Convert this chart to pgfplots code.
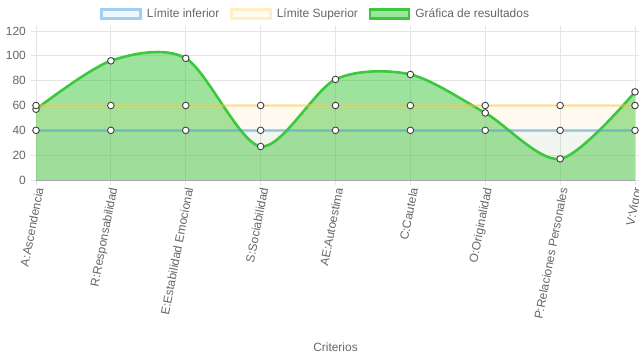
\documentclass[border=0pt]{standalone}
\usepackage{pgfplots}
\pgfplotsset{compat=1.18}
\usepackage{fontspec}
\setmainfont{Liberation Sans}
\definecolor{txt}{RGB}{102,102,102}
\definecolor{gridc}{RGB}{228,228,228}
\definecolor{cblue}{RGB}{54,162,235}
\definecolor{cyel}{RGB}{255,205,86}
\definecolor{cgreen}{RGB}{60,200,60}
\definecolor{lblue}{RGB}{160,207,245}
\definecolor{lyel}{RGB}{255,240,196}
\definecolor{fgreen}{RGB}{157,228,157}
\begin{document}
\begin{tikzpicture}
\begin{axis}[
  at={(0,0)}, anchor=south west,
  scale only axis, width=599bp, height=149bp,
  xmin=0, xmax=8, ymin=0, ymax=120,
  xtick={0,...,8},
  xticklabels={A:Ascendencia,R:Responsabilidad,E:Estabilidad Emocional,S:Sociabilidad,AE:Autoestima,C:Cautela,O:Originalidad,P:Relaciones Personales,V:Vigor},
  ytick={0,20,...,120},
  grid=major, grid style={gridc, line width=0.8bp},
  axis line style={gridc, line width=0.8bp},
  tick align=outside, major tick length=5bp,
  tick style={gridc, line width=0.8bp},
  x tick label style={rotate=79, anchor=east, font=\fontsize{12}{14}\selectfont, text=txt, inner sep=1bp, yshift=-4bp, xshift=-1bp},
  y tick label style={font=\fontsize{12}{14}\selectfont, text=txt, inner sep=2bp, xshift=-3bp},
  /pgf/number format/assume math mode=true,
  xlabel={Criterios},
  xlabel style={font=\fontsize{12}{14}\selectfont, text=txt, at={(axis description cs:0.5,0)}, anchor=center, yshift=-167bp},
  legend style={draw=none, fill=none, at={(axis description cs:0.467,1)}, anchor=center, yshift=17bp,
    legend columns=3, font=\fontsize{12}{14}\selectfont, text=txt,
    /tikz/every even column/.append style={column sep=9bp},
    /tikz/every odd column/.append style={column sep=3bp},
    nodes={inner sep=2bp}},
  legend cell align=left,
  clip=false,
]
% fills
\addplot[forget plot, smooth, draw=none, fill=cgreen, fill opacity=0.5] coordinates {(0,57) (1,96) (2,98) (3,27) (4,81) (5,85) (6,54) (7,17) (8,71)} \closedcycle;
\addplot[forget plot, draw=none, fill=cyel, fill opacity=0.09] coordinates {(0,60) (8,60)} \closedcycle;
\addplot[forget plot, draw=none, fill=cblue, fill opacity=0.06] coordinates {(0,40) (8,40)} \closedcycle;
\draw[gray!70, line width=0.8bp] (axis cs:0,0) -- (axis cs:8,0);
% lines
\addplot[forget plot, smooth, cgreen, line width=2.6bp] coordinates {(0,57) (1,96) (2,98) (3,27) (4,81) (5,85) (6,54) (7,17) (8,71)};
\addplot[forget plot, cyel, opacity=0.38, line width=2.6bp] coordinates {(0,60) (8,60)};
\addplot[forget plot, cblue, opacity=0.42, line width=2.6bp] coordinates {(0,40) (8,40)};
% markers
\addplot[forget plot, only marks, mark=*, mark size=3.3bp, mark options={fill=white, draw=black!75, line width=0.9bp}] coordinates {(0,57) (1,96) (2,98) (3,27) (4,81) (5,85) (6,54) (7,17) (8,71)};
\addplot[forget plot, only marks, mark=*, mark size=3.3bp, mark options={fill=white, draw=black!75, line width=0.9bp}] coordinates {(0,60) (1,60) (2,60) (3,60) (4,60) (5,60) (6,60) (7,60) (8,60)};
\addplot[forget plot, only marks, mark=*, mark size=3.3bp, mark options={fill=white, draw=black!75, line width=0.9bp}] coordinates {(0,40) (1,40) (2,40) (3,40) (4,40) (5,40) (6,40) (7,40) (8,40)};
% legend
\addlegendimage{legend image code/.code={\draw[draw=lblue, fill=cblue!8, line width=2.5bp] (0bp,-4.6bp) rectangle (39bp,4.6bp);}}
\addlegendentry{Límite inferior}
\addlegendimage{legend image code/.code={\draw[draw=lyel, fill=cyel!8, line width=2.5bp] (0bp,-4.6bp) rectangle (39bp,4.6bp);}}
\addlegendentry{Límite Superior}
\addlegendimage{legend image code/.code={\draw[draw=cgreen, fill=fgreen, line width=2.5bp] (0bp,-4.6bp) rectangle (39bp,4.6bp);}}
\addlegendentry{Gráfica de resultados}
\end{axis}
\pgfresetboundingbox
\path[use as bounding box] (-36bp,-180bp) rectangle (603bp,180bp);
\end{tikzpicture}
\end{document}
